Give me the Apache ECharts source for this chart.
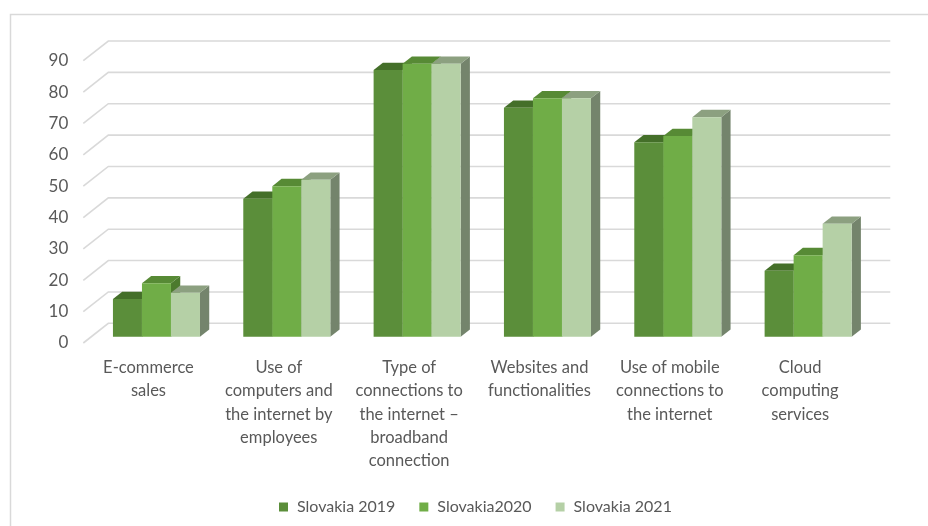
<!DOCTYPE html>
<html>
<head>
<meta charset="utf-8">
<script src="https://cdn.jsdelivr.net/npm/echarts@6/dist/echarts.min.js"></script>
<style>html,body{margin:0;padding:0;background:#fff}#c{width:928px;height:526px}</style>
</head>
<body>
<div id="c"></div>
<script>
var categories = [
  "E-commerce\nsales",
  "Use of\ncomputers and\nthe internet by\nemployees",
  "Type of\nconnections to\nthe internet \u2013\nbroadband\nconnection",
  "Websites and\nfunctionalities",
  "Use of mobile\nconnections to\nthe internet",
  "Cloud\ncomputing\nservices"
];
var seriesNames = ["Slovakia 2019", "Slovakia2020", "Slovakia 2021"];
var v2019 = [12, 44, 85, 73, 62, 21];
var v2020 = [17, 48, 87, 76, 64, 26];
var v2021 = [14, 50, 87, 76, 70, 36];
var yTicks = [0, 10, 20, 30, 40, 50, 60, 70, 80, 90];

var DEPTH_X = 25, DEPTH_Y = -19.7;
var palettes = [
  {front: "#5B8E3A", top: "#446F29", side: "#3E6526"},
  {front: "#70AD47", top: "#578A35", side: "#4C7A2E"},
  {front: "#B5D0A6", top: "#8CA080", side: "#74846C"}
];

function barRender(k) {
  return function (params, api) {
    var cat = api.value(0), val = api.value(1);
    var band = api.size([1, 0])[0];
    var base = api.coord([cat, 0]);
    var top = api.coord([cat, val]);
    var bw = band * 0.2226;
    var ox = DEPTH_X * 0.32, oy = DEPTH_Y * 0.32;
    var dx = DEPTH_X * 0.37, dy = DEPTH_Y * 0.37;
    var x0 = base[0] - 1.5 * bw + k * bw + ox;
    var x1 = x0 + bw;
    var yb = base[1] + oy, yt = top[1] + oy;
    var p = palettes[k];
    return {
      type: "group",
      children: [
        {type: "polygon", shape: {points: [[x1, yb], [x1 + dx, yb + dy], [x1 + dx, yt + dy], [x1, yt]]}, style: {fill: p.side}},
        {type: "polygon", shape: {points: [[x0, yt], [x1, yt], [x1 + dx, yt + dy], [x0 + dx, yt + dy]]}, style: {fill: p.top}},
        {type: "rect", shape: {x: x0, y: yt, width: bw, height: yb - yt}, style: {fill: p.front}}
      ]
    };
  };
}

function gridRender(params, api) {
  var cs = params.coordSys;
  var y = api.coord([0, api.value(1)])[1];
  var xl = cs.x, xr = cs.x + cs.width;
  return {
    type: "polyline",
    shape: {points: [[xl, y], [xl + DEPTH_X, y + DEPTH_Y], [xr + DEPTH_X, y + DEPTH_Y]]},
    style: {stroke: "#D9D9D9", lineWidth: 1.6, fill: null}
  };
}

var valueLists = [v2019, v2020, v2021];
var series = [{
  type: "custom",
  name: "grid",
  silent: true,
  renderItem: gridRender,
  data: yTicks.map(function (t) { return [0, t]; }),
  z: 1
}];
valueLists.forEach(function (vals, k) {
  series.push({
    type: "custom",
    name: seriesNames[k],
    renderItem: barRender(k),
    itemStyle: {color: palettes[k].front},
    data: vals.map(function (v, i) { return [i, v]; }),
    z: 2 + k
  });
});

var chart = echarts.init(document.getElementById("c"), null, {renderer: "canvas"});
chart.setOption({
  animation: false,
  backgroundColor: "#ffffff",
  graphic: [{
    type: "rect", left: 8, top: 12,
    shape: {x: 0, y: 0, width: 940, height: 540},
    style: {fill: null, stroke: "#D9D9D9", lineWidth: 1.5},
    silent: true, z: -10
  }],
  grid: {left: 83.3, right: 62.7, top: 60.7, bottom: 183},
  legend: {
    data: seriesNames,
    left: 274, top: 494,
    icon: "rect", itemWidth: 9, itemHeight: 9, itemGap: 24,
    textStyle: {fontFamily: "Lato", fontSize: 16, color: "#595959", padding: [0, 0, 0, 4]}
  },
  xAxis: {
    type: "category",
    data: categories,
    axisLine: {show: false}, axisTick: {show: false}, splitLine: {show: false},
    axisLabel: {interval: 0, margin: 13, fontFamily: "Lato", fontSize: 16.5, lineHeight: 23.3, color: "#595959", align: "center"}
  },
  yAxis: {
    type: "value", min: 0, max: 90, interval: 10,
    axisLine: {show: false}, axisTick: {show: false}, splitLine: {show: false},
    axisLabel: {margin: 15, fontFamily: "Lato", fontSize: 17, color: "#595959", padding: [4, 0, 0, 0]}
  },
  series: series
});
</script>
</body>
</html>
